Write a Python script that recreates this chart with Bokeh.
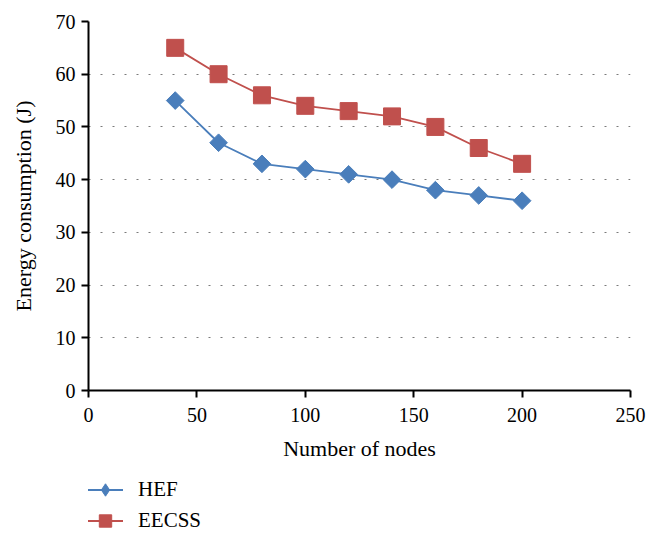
import math
from bokeh.plotting import figure
from bokeh.layouts import column
from bokeh.models import Legend, LegendItem, Range1d, FixedTicker
from bokeh.embed import file_html
from bokeh.resources import INLINE

nodes = [40, 60, 80, 100, 120, 140, 160, 180, 200]
hef = [55, 47, 43, 42, 41, 40, 38, 37, 36]
eecss = [65, 60, 56, 54, 53, 52, 50, 46, 43]
x_ticks = [0, 50, 100, 150, 200, 250]
y_ticks = [0, 10, 20, 30, 40, 50, 60, 70]

BLUE = "#4a7ebb"
RED = "#c0504d"
FONT = "Liberation Serif"

p = figure(frame_width=542, frame_height=369, output_backend="svg", toolbar_location=None,
           x_range=Range1d(0, 250), y_range=Range1d(0, 70),
           min_border_left=88, min_border_right=20, min_border_top=21, min_border_bottom=80)
p.outline_line_color = None
p.background_fill_color = "white"

p.xgrid.grid_line_color = None
p.ygrid.grid_line_color = "#7a7a7a"
p.ygrid.grid_line_dash = "2 10"
p.ygrid.grid_line_width = 1.2

for ax in (p.xaxis[0], p.yaxis[0]):
    ax.axis_line_color = "black"
    ax.axis_line_width = 2
    ax.major_tick_line_color = "black"
    ax.major_tick_line_width = 2
    ax.major_tick_out = 7
    ax.major_tick_in = 0
    ax.minor_tick_line_color = None
    ax.major_label_text_font = FONT
    ax.major_label_text_font_size = "20px"
    ax.major_label_text_color = "black"
    ax.axis_label_text_font = FONT
    ax.axis_label_text_font_size = "22px"
    ax.axis_label_text_font_style = "normal"
    ax.axis_label_text_color = "black"

p.xaxis.ticker = FixedTicker(ticks=x_ticks)
p.yaxis.ticker = FixedTicker(ticks=y_ticks)
p.xaxis.axis_label = "Number of nodes"
p.yaxis.axis_label = "Energy consumption (J)"
p.xaxis.major_label_standoff = 10
p.xaxis.axis_label_standoff = 11
p.yaxis.major_label_standoff = 6
p.yaxis.axis_label_standoff = 17

line_kw = dict(line_width=1.8)

p.line(nodes, hef, line_color=BLUE, **line_kw)
p.scatter(nodes, hef, marker="square", angle=math.pi / 4, size=12.5,
          fill_color=BLUE, line_color=BLUE)
p.line(nodes, eecss, line_color=RED, **line_kw)
p.scatter(nodes, eecss, marker="square", size=17, fill_color=RED, line_color=RED)

# Legend strip below the chart (same series; the data lie outside this strip's ranges)
lg = figure(width=650, height=71, output_backend="svg", toolbar_location=None,
            x_range=Range1d(-1000, -999), y_range=Range1d(-1000, -999),
            x_axis_location=None, y_axis_location=None, min_border=0)
lg.outline_line_color = None
lg.grid.grid_line_color = None
l1 = lg.line(nodes, hef, line_color=BLUE, **line_kw)
m1 = lg.scatter(nodes, hef, marker="diamond", size=24, fill_color=BLUE, line_color=BLUE)
l2 = lg.line(nodes, eecss, line_color=RED, **line_kw)
m2 = lg.scatter(nodes, eecss, marker="square", size=20, fill_color=RED, line_color=RED)

legend = Legend(items=[LegendItem(label="HEF", renderers=[l1, m1]),
                       LegendItem(label="EECSS", renderers=[l2, m2])],
                orientation="vertical", location=(-1, 5))
legend.border_line_color = None
legend.background_fill_alpha = 0
legend.label_text_font = "Times New Roman"
legend.label_text_font_style = "normal"
legend.label_text_font_size = "21px"
legend.label_text_color = "black"
legend.glyph_width = 36
legend.glyph_height = 31
legend.label_height = 28
legend.label_standoff = 15
legend.spacing = 0
legend.margin = 0
legend.padding = 0
lg.add_layout(legend, "center")

layout = column(p, lg, spacing=0)
open("out.html", "w").write(file_html(layout, INLINE))
